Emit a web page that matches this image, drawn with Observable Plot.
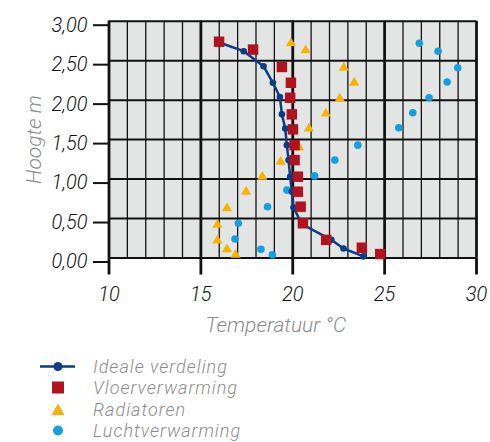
<!DOCTYPE html>
<html><head><meta charset="utf-8">
<script src="https://cdn.jsdelivr.net/npm/d3@7"></script>
<script src="https://cdn.jsdelivr.net/npm/@observablehq/plot@0.6"></script>
<style>
body{margin:0;background:#fff;}
#legend{font-family:Roboto,"Liberation Sans",sans-serif;font-weight:300;font-style:italic;font-size:18px;letter-spacing:1px;color:#8c8c8c;padding-top:11px;}
.row{display:flex;align-items:center;height:21.3px;line-height:21.3px;}
.row svg{margin-left:40px;width:36px;height:21px;flex:none;}
.row span{margin-left:17px;}
</style></head><body><div id="chart"></div><div id="legend"></div>
<script>
// Ideale verdeling
const idealT = [16.0, 17.33, 18.41, 18.92, 19.30, 19.41, 19.59, 19.68, 19.77, 19.86, 19.95, 20.04, 20.5, 22.1, 22.76, 23.85];
const idealH = [2.73, 2.62, 2.43, 2.22, 2.04, 1.82, 1.64, 1.43, 1.24, 1.03, 0.84, 0.64, 0.43, 0.23, 0.12, 0.02];
// Vloerverwarming
const vloerT = [15.99, 17.84, 19.41, 19.90, 19.86, 19.95, 20.01, 20.10, 20.10, 20.28, 20.28, 20.43, 20.55, 21.82, 23.76, 24.76];
const vloerH = [2.74, 2.64, 2.42, 2.22, 2.03, 1.82, 1.63, 1.43, 1.24, 1.03, 0.84, 0.65, 0.44, 0.23, 0.13, 0.05];
// Radiatoren
const radT = [19.90, 20.70, 22.78, 23.34, 22.56, 21.80, 20.88, 20.34, 19.34, 18.34, 17.46, 16.42, 15.90, 15.90, 16.42, 16.89];
const radH = [2.72, 2.63, 2.41, 2.22, 2.02, 1.83, 1.64, 1.40, 1.22, 1.03, 0.84, 0.63, 0.42, 0.22, 0.11, 0.04];
// Luchtverwarming
const luchtT = [26.89, 27.91, 28.98, 28.40, 27.42, 26.53, 25.77, 23.54, 22.29, 21.19, 19.68, 18.63, 17.04, 16.86, 18.27, 18.89];
const luchtH = [2.72, 2.62, 2.41, 2.23, 2.03, 1.84, 1.65, 1.43, 1.24, 1.04, 0.86, 0.65, 0.44, 0.24, 0.11, 0.04];

const xMajor = [10, 15, 20, 25, 30];
const xMinor = [11,12,13,14,16,17,18,19,21,22,23,24,26,27,28,29];
const yTicks = [0, 0.5, 1, 1.5, 2, 2.5, 3];
const xLabel = "Temperatuur °C";
const yLabel = "Hoogte m";
const seriesNames = ["Ideale verdeling", "Vloerverwarming", "Radiatoren", "Luchtverwarming"];

const C = {ideal:"#0b3c86", vloer:"#b0121f", rad:"#f8b300", lucht:"#14a0e0"};
const zip = (xs, ys) => xs.map((x, i) => ({x, y: ys[i]}));
const ideal = zip(idealT, idealH), vloer = zip(vloerT, vloerH), rad = zip(radT, radH), lucht = zip(luchtT, luchtH);

const W = 490, H = 345;
const font = 'Roboto, "Liberation Sans", sans-serif';
const chart = Plot.plot({
  width: W, height: H,
  marginLeft: 108.5, marginRight: 14, marginTop: 20.7, marginBottom: H - 257.5,
  x: {domain: [10, 30]},
  y: {domain: [0, 3]},
  style: {fontFamily: font, fontSize: "20px", fontStyle: "italic", fontWeight: 300, background: "#fff", color: "#111"},
  marks: [
    Plot.frame({fill: "#e3e4e4"}),
    Plot.ruleX(xMinor, {stroke: "#111", strokeWidth: 1.3}),
    Plot.gridY(yTicks, {stroke: "#111", strokeOpacity: 1, strokeWidth: 2}),
    Plot.ruleX(xMajor, {stroke: "#111", strokeWidth: 2.8}),
    Plot.axisX(xMajor, {tickSize: 17, strokeWidth: 2.8, tickPadding: 12, tickFormat: d => String(d), label: null, fontSize: 20}),
    Plot.axisY(yTicks, {tickSize: 15.5, strokeWidth: 2, tickPadding: 6, dy: 4, tickFormat: d => d.toFixed(2).replace(".", ","), label: null, fontSize: 20}),
    Plot.text([xLabel], {frameAnchor: "bottom", dx: -17, dy: 67, lineAnchor: "middle", fill: "#8c8c8c", fontSize: 21}),
    Plot.text([yLabel], {frameAnchor: "left", textAnchor: "middle", rotate: -90, dx: -75, dy: 0, lineAnchor: "middle", fill: "#8c8c8c", fontSize: 21}),
    Plot.dot(rad, {x: "x", y: "y", symbol: "triangle", r: 3.8, fill: C.rad, stroke: "none"}),
    Plot.dot(lucht, {x: "x", y: "y", r: 3.8, fill: C.lucht, stroke: "none"}),
    Plot.line(ideal, {x: "x", y: "y", stroke: C.ideal, strokeWidth: 2.5}),
    Plot.dot(ideal, {x: "x", y: "y", r: 3.3, fill: C.ideal, stroke: "none"}),
    Plot.dot(vloer, {x: "x", y: "y", symbol: "square", r: 5.9, fill: C.vloer, stroke: "none"})
  ]
});
document.getElementById("chart").appendChild(chart);

const swatches = [
  `<line x1="0" x2="35" y1="10.5" y2="10.5" stroke="${C.ideal}" stroke-width="2.5"/><circle cx="18" cy="10.5" r="4.5" fill="${C.ideal}"/>`,
  `<rect x="12" y="4.5" width="12" height="12" fill="${C.vloer}"/>`,
  `<path d="M18,4.5 L24.5,16 L11.5,16 Z" fill="${C.rad}"/>`,
  `<circle cx="18" cy="10.5" r="5" fill="${C.lucht}"/>`
];
document.getElementById("legend").innerHTML = seriesNames.map((n, i) =>
  `<div class="row"><svg viewBox="0 0 36 21">${swatches[i]}</svg><span>${n}</span></div>`).join("");
</script>
</body></html>
